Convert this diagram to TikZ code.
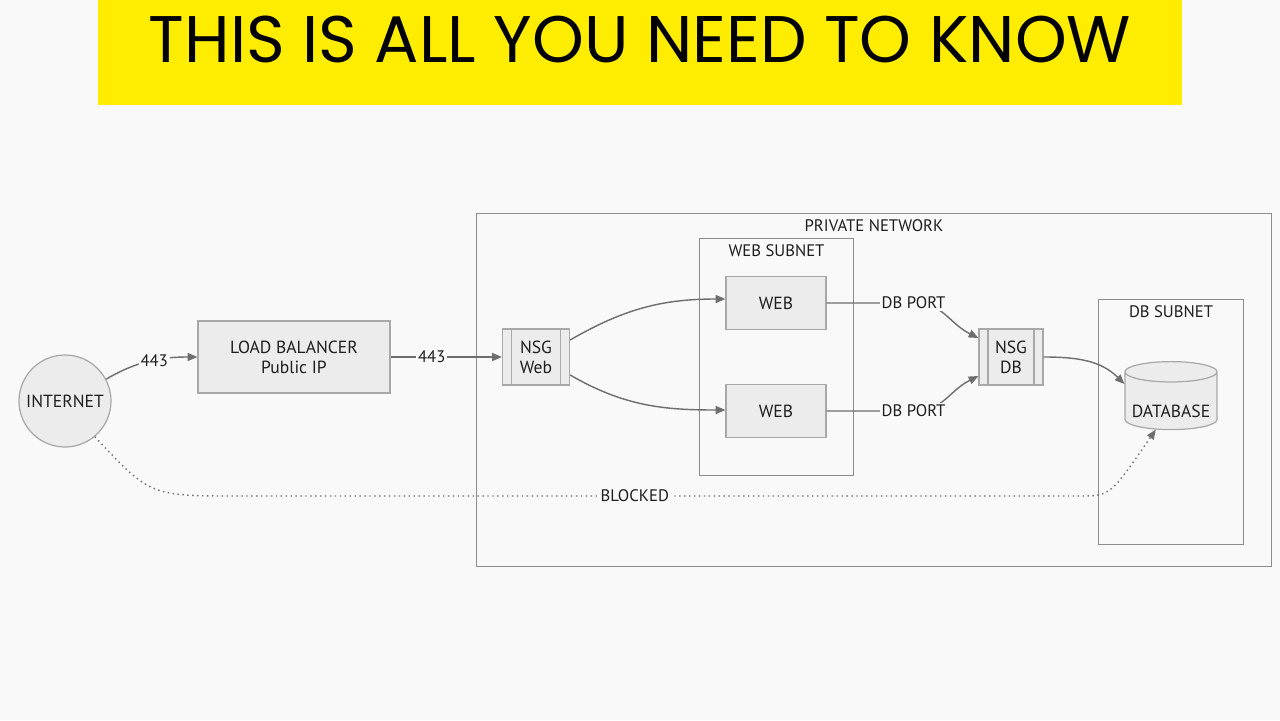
\documentclass[tikz,border=0pt]{standalone}
\usepackage{fontspec}
\setmainfont{PT Sans}
\newfontfamily\titlefont{Poppins}
\usetikzlibrary{shapes.geometric,arrows.meta}
\definecolor{bgc}{HTML}{F9F9F9}
\definecolor{ttl}{HTML}{FFED00}
\definecolor{nodefill}{HTML}{ECECEC}
\definecolor{nodeline}{HTML}{A8A8A8}
\definecolor{edgeline}{HTML}{6E6E6E}
\definecolor{grpline}{HTML}{8C8C8C}
\definecolor{txt}{HTML}{1E1E1E}
\begin{document}
\begin{tikzpicture}[x=0.02cm,y=-0.02cm,
  box/.style={draw=nodeline,fill=nodefill,text=txt,align=center,line width=0.7pt,
    font=\fontsize{10}{11.5}\selectfont,inner sep=0pt},
  nsg/.style={box,minimum width=1.34cm,minimum height=1.12cm,
    path picture={\draw[nodeline,line width=0.7pt]
      ([xshift=0.18cm]path picture bounding box.north west) -- ([xshift=0.18cm]path picture bounding box.south west)
      ([xshift=-0.18cm]path picture bounding box.north east) -- ([xshift=-0.18cm]path picture bounding box.south east);}},
  group/.style={draw=grpline,line width=0.6pt,inner sep=0pt,anchor=north west},
  grouplbl/.style={text=txt,font=\fontsize{9.5}{11}\selectfont,below,inner sep=3.5pt},
  edge/.style={draw=edgeline,line width=0.8pt,-{Triangle[length=5.5pt,width=4.5pt]}},
  lbl/.style={fill=bgc,text=txt,inner sep=1pt,font=\fontsize{9.5}{11}\selectfont}]

  % page
  \fill[bgc] (0,0) rectangle (1280,720);
  \useasboundingbox (0,0) rectangle (1280,720);

  % banner
  \node[fill=ttl,minimum width=21.68cm,minimum height=2.1cm,anchor=north west,inner sep=0pt] (banner) at (98,0) {};
  \node[font=\titlefont\fontsize{37.5}{40}\selectfont] (title) at (640,39) {THIS IS ALL YOU NEED TO KNOW};

  % groups
  \node[group,minimum width=15.9cm,minimum height=7.06cm] (priv) at (476,213) {};
  \node[grouplbl] at (priv.north) {PRIVATE NETWORK};
  \node[group,minimum width=3.08cm,minimum height=4.74cm] (websub) at (699,238) {};
  \node[grouplbl] at (websub.north) {WEB SUBNET};
  \node[group,minimum width=2.9cm,minimum height=4.9cm] (dbsub) at (1098,299) {};
  \node[grouplbl] at (dbsub.north) {DB SUBNET};

  % nodes
  \node[box,circle,minimum size=1.84cm] (internet) at (65,401) {INTERNET};
  \node[box,minimum width=3.84cm,minimum height=1.44cm] (lb) at (294,357) {LOAD BALANCER\\Public IP};
  \node[nsg] (nsgweb) at (536,357) {NSG\\Web};
  \node[box,minimum width=2cm,minimum height=1.06cm] (web1) at (776,303) {WEB};
  \node[box,minimum width=2cm,minimum height=1.06cm] (web2) at (776,411) {WEB};
  \node[nsg,minimum width=1.28cm] (nsgdb) at (1011,357) {NSG\\DB};
  \node[box,cylinder,shape border rotate=90,aspect=0.26,minimum width=1.84cm,minimum height=1.36cm] (database) at (1171,401) {\raisebox{-0.32cm}[0pt][0pt]{DATABASE}};

  % connectors
  \draw[edge] (internet.28) to[out=30,in=180] node[lbl,pos=0.55] {443} (lb.west);
  \draw[edge] (lb.east) -- node[lbl,pos=0.37] {443} (nsgweb.west);
  \draw[edge] (nsgweb.east |- 0,340) to[out=30,in=180] (web1.west |- 0,299);
  \draw[edge] (nsgweb.east |- 0,375) to[out=-30,in=180] (web2.west |- 0,410);
  \draw[edge] (web1.east) -- ++(1.74cm,0) node[lbl] {DB PORT}
    .. controls +(0.6cm,0) and +(-0.6cm,0.3cm) .. (nsgdb.north west |- 0,338);
  \draw[edge] (web2.east) -- ++(1.74cm,0) node[lbl] {DB PORT}
    .. controls +(0.6cm,0) and +(-0.6cm,-0.3cm) .. (nsgdb.south west |- 0,376);
  \draw[edge] (nsgdb.east) to[out=0,in=135] (database.160);
  \draw[edge,dotted] (internet.-50) .. controls (150,496) .. (240,496)
    -- node[lbl,pos=0.47] {BLOCKED} (1080,496) .. controls (1110,496) .. (database.-118);
\end{tikzpicture}
\end{document}
